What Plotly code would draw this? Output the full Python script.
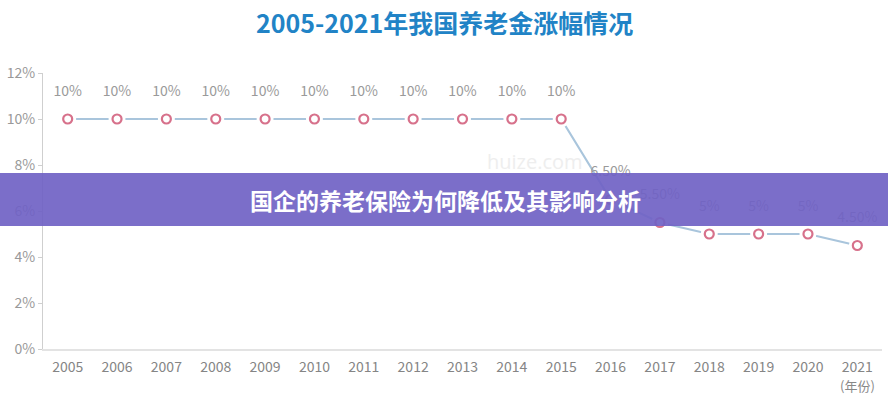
import plotly.graph_objects as go

years = ["2005", "2006", "2007", "2008", "2009", "2010", "2011", "2012", "2013",
         "2014", "2015", "2016", "2017", "2018", "2019", "2020", "2021"]
rates = [10, 10, 10, 10, 10, 10, 10, 10, 10, 10, 10, 6.5, 5.5, 5, 5, 5, 4.5]
labels = ["10%", "10%", "10%", "10%", "10%", "10%", "10%", "10%", "10%",
          "10%", "10%", "6.50%", "5.50%", "5%", "5%", "5%", "4.50%"]
y_ticks = [0, 2, 4, 6, 8, 10, 12]
y_tick_labels = ["0%", "2%", "4%", "6%", "8%", "10%", "12%"]

title_text = "2005-2021年我国养老金涨幅情况"
banner_text = "国企的养老保险为何降低及其影响分析"

FONT = "Noto Sans CJK SC"

fig = go.Figure()

# line
fig.add_trace(go.Scatter(
    x=years, y=rates, mode="lines",
    line=dict(color="#a9c5dc", width=2.2),
    hoverinfo="skip", showlegend=False))
# white halo behind markers
fig.add_trace(go.Scatter(
    x=years, y=rates, mode="markers",
    marker=dict(size=17, color="white", line=dict(width=0)),
    hoverinfo="skip", showlegend=False))
# ring markers
fig.add_trace(go.Scatter(
    x=years, y=rates, mode="markers",
    marker=dict(size=9, color="white", line=dict(color="#d7718b", width=2.2)),
    showlegend=False))
# data labels (pushed up by an invisible large marker)
fig.add_trace(go.Scatter(
    x=years, y=rates, mode="markers+text", text=labels,
    textposition="top center",
    textfont=dict(family=FONT, size=14, color="#9a9a9a"),
    marker=dict(size=30, color="rgba(0,0,0,0)"),
    hoverinfo="skip", showlegend=False))

L, R, T, B = 43, 6, 73, 51
W, H = 888, 400
pw = W - L - R
ph = H - T - B

def px_x(px):
    return (px - L) / pw

def px_y(py):
    return (H - B - py) / ph

# watermark
fig.add_annotation(x=px_x(535), y=px_y(161), xref="paper", yref="paper",
                   yanchor="middle", xanchor="center",
                   text="huize.com", showarrow=False,
                   font=dict(family="Open Sans", size=20, color="#eeeeee"))

# banner
fig.add_shape(type="rect", xref="paper", yref="paper",
              x0=px_x(0), x1=px_x(W), y0=px_y(226), y1=px_y(173),
              fillcolor="rgba(112,98,196,0.92)", line=dict(width=0),
              layer="above")
fig.add_annotation(x=px_x(445), y=px_y(199.5), xref="paper", yref="paper",
                   yanchor="middle", xanchor="center",
                   text="<b>" + banner_text + "</b>", showarrow=False,
                   font=dict(family=FONT, size=23, color="white"))

# title
fig.add_annotation(x=px_x(444), y=px_y(22), xref="paper", yref="paper",
                   yanchor="middle", xanchor="center",
                   text="<b>" + title_text + "</b>", showarrow=False,
                   font=dict(family=FONT, size=25, color="#2183c6"))

# x-axis unit
fig.add_annotation(x=px_x(857), y=px_y(385), xref="paper", yref="paper",
                   yanchor="middle", xanchor="center",
                   text="(年份)", showarrow=False,
                   font=dict(family=FONT, size=13, color="#888888"))

fig.update_layout(
    width=W, height=H,
    margin=dict(l=L, r=R, t=T, b=B),
    paper_bgcolor="white", plot_bgcolor="white",
    font=dict(family=FONT, size=14, color="#888888"),
    xaxis=dict(type="category", range=[-0.5, 16.5], showgrid=False,
               showline=True, linecolor="#e3e3e3", linewidth=1.5,
               ticks="", ticklabelstandoff=4,
               tickfont=dict(family=FONT, size=14, color="#858585")),
    yaxis=dict(range=[0, 12], tickvals=y_ticks, ticktext=y_tick_labels,
               showgrid=False, zeroline=False, showline=True,
               linecolor="#cfcfcf", linewidth=1, ticks="outside", ticklen=4,
               tickcolor="#cfcfcf",
               tickfont=dict(family=FONT, size=14, color="#999999")),
    showlegend=False,
)

fig.write_html("out.html", config={"displayModeBar": False},
               post_script="document.body.style.margin='0';")
